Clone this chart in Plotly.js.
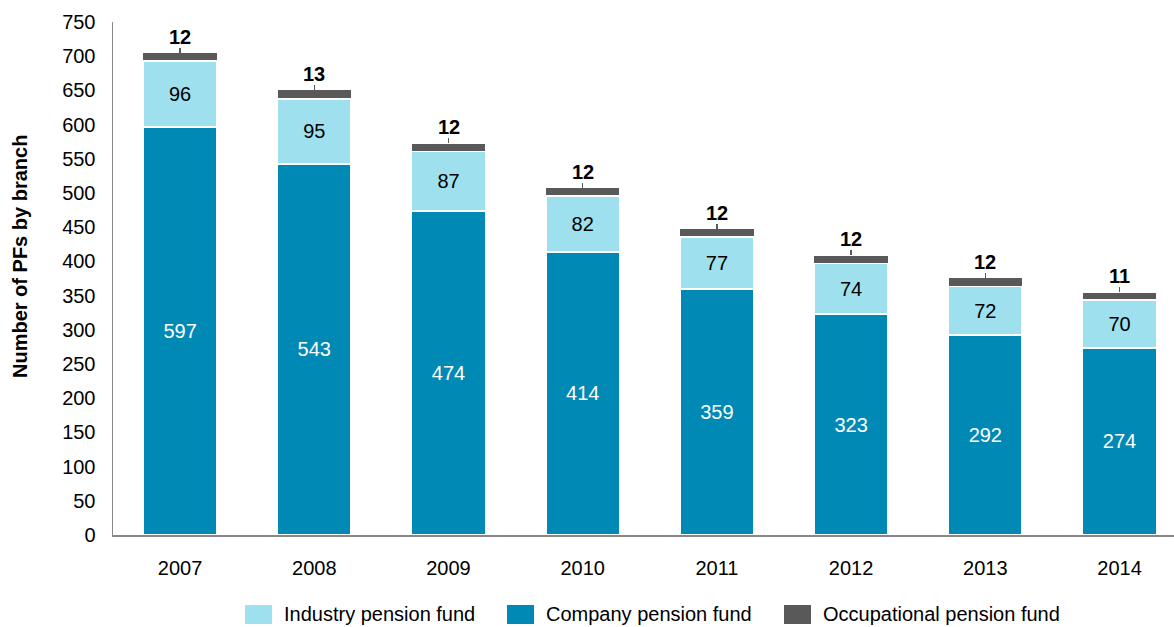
<!DOCTYPE html>
<html><head><meta charset="utf-8">
<script src="https://cdn.plot.ly/plotly-3.0.1.min.js"></script>
<style>body{margin:0;background:#fff}#chart{width:1174px;height:627px}</style>
</head><body><div id="chart"></div>
<script>
const years = ['2007','2008','2009','2010','2011','2012','2013','2014'];
const company = [597,543,474,414,359,323,292,274];
const industry = [96,95,87,82,77,74,72,70];
const occupational = [12,13,12,12,12,12,12,11];
const seriesNames = ['Industry pension fund','Company pension fund','Occupational pension fund'];
const yTitle = 'Number of PFs by branch';

const FONT = 'Liberation Sans, Arial, sans-serif';
const COLORS = {company:'#0089b4', industry:'#9ee0ee', occupational:'#595959'};
const totals = years.map((_, i) => company[i] + industry[i] + occupational[i]);

const lineW = {color:'#ffffff', width:2};
const traces = [
  {type:'bar', name:seriesNames[1], x:years, y:company, showlegend:false,
   marker:{color:COLORS.company, line:lineW},
   text:company.map(String), textposition:'inside', insidetextanchor:'middle',
   textfont:{family:FONT, size:20, color:'#ffffff'}, hoverinfo:'none'},
  {type:'bar', name:seriesNames[0], x:years, y:industry, showlegend:false,
   marker:{color:COLORS.industry, line:lineW},
   text:industry.map(String), textposition:'inside', insidetextanchor:'middle',
   textfont:{family:FONT, size:20, color:'#000000'}, hoverinfo:'none'},
  {type:'bar', name:seriesNames[2], x:years, y:occupational, showlegend:false,
   marker:{color:COLORS.occupational, line:{color:'#ffffff', width:1}}, textposition:'none', hoverinfo:'none',
   error_y:{type:'constant', symmetric:false, value:7, valueminus:0, color:COLORS.occupational, thickness:1.5, width:0}}
];

const W = 1174, H = 627;
const annotations = years.map((yr, i) => ({
  x: i, y: totals[i], xref:'x', yref:'y', text:'<b>' + occupational[i] + '</b>',
  showarrow:false, yanchor:'bottom', yshift:3,
  font:{family:FONT, size:20, color:'#000000'}
}));

// y-axis title
annotations.push({xref:'paper', yref:'paper', x:(20 - 113) / (W - 113), y:(535 - 257) / 513,
  xanchor:'center', yanchor:'middle', textangle:-90, showarrow:false,
  text:'<b>' + yTitle + '</b>', font:{family:FONT, size:20, color:'#000000'}});

// custom legend (paper coordinates)
const legendX = [245, 507, 784];
const legendCols = [COLORS.industry, COLORS.company, COLORS.occupational];
const shapes = [];
legendX.forEach((lx, k) => {
  shapes.push({type:'rect', xref:'paper', yref:'paper', layer:'above',
    x0:(lx - 113) / (W - 113), x1:(lx + 27 - 113) / (W - 113),
    y0:(535 - 624) / 513, y1:(535 - 605) / 513,
    fillcolor:legendCols[k], line:{width:0}});
  annotations.push({xref:'paper', yref:'paper', x:(lx + 37 - 113) / (W - 113), y:(535 - 614) / 513,
    xanchor:'left', yanchor:'middle', showarrow:false, text:seriesNames[k],
    font:{family:FONT, size:20, color:'#000000'}});
});

const layout = {
  width:W, height:H,
  margin:{l:113, r:0, t:22, b:92},
  barmode:'stack', bargap:0.446,
  paper_bgcolor:'#ffffff', plot_bgcolor:'#ffffff',
  font:{family:FONT, size:20, color:'#000000'},
  xaxis:{type:'category', range:[-0.5, 7.406], showline:true, linecolor:'#888888', linewidth:1.5,
    ticks:'', showgrid:false, tickfont:{family:FONT, size:20}, zeroline:false, automargin:false,
    ticklabelstandoff:14},
  yaxis:{range:[0,750], dtick:50, showline:true, linecolor:'#888888', linewidth:1.5,
    ticks:'', showgrid:false, zeroline:false, tickfont:{family:FONT, size:20}, ticklabelstandoff:12,
    automargin:false},
  annotations: annotations,
  shapes: shapes,
  showlegend:false
};

Plotly.newPlot('chart', traces, layout, {displayModeBar:false, staticPlot:true});
</script></body></html>
